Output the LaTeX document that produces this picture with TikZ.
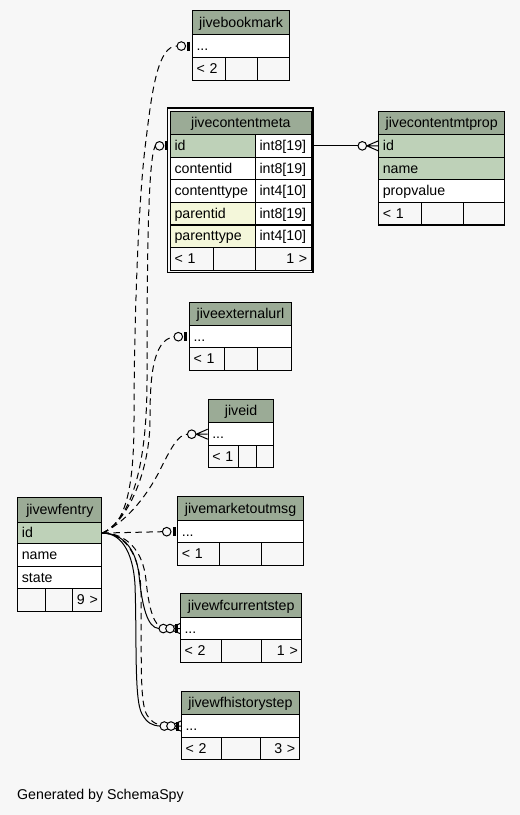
\documentclass[tikz,border=0pt]{standalone}
\usepackage{fontspec}
\setmainfont{Liberation Sans}
\usetikzlibrary{calc}
\definecolor{hdrC}{HTML}{9BAB96}
\definecolor{keyC}{HTML}{BED1B8}
\definecolor{fkC}{HTML}{F4F7DA}
\definecolor{bgC}{HTML}{F7F7F7}
\newcommand\myfont{\fontsize{14.2}{16}\selectfont}
\tikzset{
  cell/.style={draw=black, line width=1.1pt, anchor=north west, inner ysep=0pt, inner xsep=4pt,
    text height=10pt, text depth=0.6pt, font=\myfont},
  lc/.code 2 args={\pgfmathsetmacro\cellw{#1-8}\tikzset{cell, minimum width=#1pt, text width=\cellw pt, minimum height=#2pt, align=left}},
  rc/.code 2 args={\pgfmathsetmacro\cellw{#1-8}\tikzset{cell, minimum width=#1pt, text width=\cellw pt, minimum height=#2pt, align=right}},
  hd/.code 2 args={\pgfmathsetmacro\cellw{#1-8}\tikzset{cell, minimum width=#1pt, text width=\cellw pt, minimum height=#2pt, align=center, fill=hdrC}},
  key/.style={fill=keyC}, fk/.style={fill=fkC}, wt/.style={fill=white},
  rel/.style={line width=1pt},
  dsh/.style={rel, dash pattern=on 6.5pt off 4.5pt},
}
\newcommand\markOne[2]{%
  \draw[rel, fill=bgC] ($(#1.west)+(-#2,0)$) circle[radius=4.3pt];
  \draw[line width=3pt] ($(#1.west)+(-3.2,-4.5)$) -- ($(#1.west)+(-3.2,4.5)$);}
\newcommand\markMany[2]{%
  \draw[rel] ($(#1.west)+(-11.5,0)$) -- ($(#1.west)+(0,-5)$)
             ($(#1.west)+(-11.5,0)$) -- (#1.west)
             ($(#1.west)+(-11.5,0)$) -- ($(#1.west)+(0,5)$);
  \draw[rel, fill=bgC] ($(#1.west)+(-#2,0)$) circle[radius=4.3pt];}
\begin{document}
\begin{tikzpicture}[x=1pt, y=-1pt]
\useasboundingbox (0,0) rectangle (520,815);
\fill[bgC] (0,0) rectangle (520,815);

% jivebookmark
\node[hd={97}{24}] (bm) at (192,10) {jivebookmark};
\node[lc={97}{23}, wt] (bm-r) at (192,34) {...};
\node[lc={33}{23}] (bm-f1) at (192,57) {< 2};
\node[lc={32}{23}] (bm-f2) at (225,57) {};
\node[lc={32}{23}] (bm-f3) at (257,57) {};

% jivecontentmeta
\draw[line width=1.8pt] (167.5,107.8) rectangle (313.2,272.4);
\node[hd={140.7}{23.3}] (cm) at (170,110.7) {jivecontentmeta};
\node[lc={85}{22.6}, key] (cm-id) at (170,134) {id};
\node[lc={55.7}{22.6}, wt] (cm-idt) at (255,134) {int8[19]};
\node[lc={85}{22.6}, wt] (cm-ci) at (170,156.6) {contentid};
\node[lc={55.7}{22.6}, wt] (cm-cit) at (255,156.6) {int8[19]};
\node[lc={85}{22.6}, wt] (cm-ct) at (170,179.2) {contenttype};
\node[lc={55.7}{22.6}, wt] (cm-ctt) at (255,179.2) {int4[10]};
\node[lc={85}{22.6}, fk] (cm-pi) at (170,201.8) {parentid};
\node[lc={55.7}{22.6}, wt] (cm-pit) at (255,201.8) {int8[19]};
\node[lc={85}{22.6}, fk] (cm-pt) at (170,224.4) {parenttype};
\node[lc={55.7}{22.6}, wt] (cm-ptt) at (255,224.4) {int4[10]};
\node[lc={42.7}{22.6}] (cm-f1) at (170,247) {< 1};
\node[lc={42.3}{22.6}] (cm-f2) at (212.7,247) {};
\node[rc={55.7}{22.6}] (cm-f3) at (255,247) {1 >};

% jivecontentmtprop
\node[hd={125.7}{23}] (cp) at (378.3,111) {jivecontentmtprop};
\node[lc={125.7}{22.6}, key] (cp-id) at (378.3,134) {id};
\node[lc={125.7}{22.6}, key] (cp-nm) at (378.3,156.6) {name};
\node[lc={125.7}{22.6}, wt] (cp-pv) at (378.3,179.2) {propvalue};
\node[lc={42.4}{22.6}] (cp-f1) at (378.3,201.8) {< 1};
\node[lc={42}{22.6}] (cp-f2) at (420.7,201.8) {};
\node[lc={41.3}{22.6}] (cp-f3) at (462.7,201.8) {};

% jiveexternalurl
\node[hd={101.7}{23.3}] (eu) at (189,301.7) {jiveexternalurl};
\node[lc={101.7}{22.3}, wt] (eu-r) at (189,325) {...};
\node[lc={34.7}{22.7}] (eu-f1) at (189,347.3) {< 1};
\node[lc={33}{22.7}] (eu-f2) at (223.7,347.3) {};
\node[lc={34}{22.7}] (eu-f3) at (256.7,347.3) {};

% jiveid
\node[hd={65.6}{23.6}] (ji) at (207.7,398.7) {jiveid};
\node[lc={65.6}{22.7}, wt] (ji-r) at (207.7,422.3) {...};
\node[lc={30.6}{22.3}] (ji-f1) at (207.7,445) {< 1};
\node[lc={17.4}{22.3}] (ji-f2) at (238.3,445) {};
\node[lc={17.6}{22.3}] (ji-f3) at (255.7,445) {};

% jivemarketoutmsg
\node[hd={125.4}{24.3}] (mo) at (177.3,495.7) {jivemarketoutmsg};
\node[lc={125.4}{22.3}, wt] (mo-r) at (177.3,520) {...};
\node[lc={42}{22.7}] (mo-f1) at (177.3,542.3) {< 1};
\node[lc={41.7}{22.7}] (mo-f2) at (219.3,542.3) {};
\node[lc={41.7}{22.7}] (mo-f3) at (261,542.3) {};

% jivewfcurrentstep
\node[hd={121.3}{23.4}] (cs) at (180,593.3) {jivewfcurrentstep};
\node[lc={121.3}{22.6}, wt] (cs-r) at (180,616.7) {...};
\node[lc={40.7}{22.7}] (cs-f1) at (180,639.3) {< 2};
\node[lc={40.3}{22.7}] (cs-f2) at (220.7,639.3) {};
\node[rc={40.3}{22.7}] (cs-f3) at (261,639.3) {1 >};

% jivewfhistorystep
\node[hd={117.7}{23.6}] (hs) at (181,690.7) {jivewfhistorystep};
\node[lc={117.7}{22.4}, wt] (hs-r) at (181,714.3) {...};
\node[lc={39.7}{22.3}] (hs-f1) at (181,736.7) {< 2};
\node[lc={39.3}{22.3}] (hs-f2) at (220.7,736.7) {};
\node[rc={38.7}{22.3}] (hs-f3) at (260,736.7) {3 >};

% jivewfentry
\node[hd={84}{25}] (we) at (17.3,496.7) {jivewfentry};
\node[lc={84}{21.6}, key] (we-id) at (17.3,521.7) {id};
\node[lc={84}{22.7}, wt] (we-nm) at (17.3,543.3) {name};
\node[lc={84}{22.3}, wt] (we-st) at (17.3,566) {state};
\node[lc={27.7}{22.7}] (we-f1) at (17.3,588.3) {};
\node[lc={27}{22.7}] (we-f2) at (45,588.3) {};
\node[rc={29.3}{22.7}] (we-f3) at (72,588.3) {9 >};

% relationships
\draw[dsh] (we-id.east) .. controls (125,525) and (134,490) .. (134,420)
  .. controls (134,330) and (138,200) .. (146,140)
  .. controls (152,90) and (158,45.5) .. ($(bm-r.west)+(-15,0)$);
\markOne{bm-r}{10.7}
\draw[dsh] (we-id.east) .. controls (130,520) and (147,470) .. (147,380)
  .. controls (147,260) and (148,160) .. ($(cm-id.west)+(-14.8,0)$);
\markOne{cm-id}{10.5}
\draw[dsh] (we-id.east) .. controls (128,522) and (150,470) .. (150,420)
  .. controls (150,380) and (152,340) .. ($(eu-r.west)+(-15,0)$);
\markOne{eu-r}{10.7}
\draw[dsh] (we-id.east) .. controls (130,520) and (150,490) .. (160,470)
  .. controls (170,450) and (178,434) .. ($(ji-r.west)+(-20.3,0)$);
\markMany{ji-r}{16}
\draw[dsh] (we-id.east) -- ($(mo-r.west)+(-15,0)$);
\markOne{mo-r}{10.6}
\draw[rel] (we-id.east) .. controls (122,533) and (136,548) .. (139,575)
  .. controls (142,605) and (147,628) .. ($(cs-r.west)+(-21,0)$);
\draw[dsh] (we-id.east) .. controls (126,533) and (143,550) .. (146,580)
  .. controls (149,610) and (154,628) .. ($(cs-r.west)+(-14.3,0)$);
\markMany{cs-r}{16.7}
\markOne{cs-r}{10}
\draw[rel] (we-id.east) .. controls (120,533) and (133,550) .. (135,585)
  .. controls (137,640) and (134,700) .. (142,714)
  .. controls (147,723) and (152,725.5) .. ($(hs-r.west)+(-21,0)$);
\draw[dsh] (we-id.east) .. controls (124,534) and (140,552) .. (141,592)
  .. controls (142,650) and (139,702) .. (147,715)
  .. controls (152,723) and (158,725.5) .. ($(hs-r.west)+(-14.3,0)$);
\markMany{hs-r}{16.7}
\markOne{hs-r}{10}
\draw[rel] (cm-idt.east) -- ($(cp-id.west)+(-20.3,0)$);
\markMany{cp-id}{16}

\node[anchor=base west, font=\myfont, inner sep=0pt] (gen) at (17,799.5) {Generated by SchemaSpy};
\end{tikzpicture}
\end{document}
